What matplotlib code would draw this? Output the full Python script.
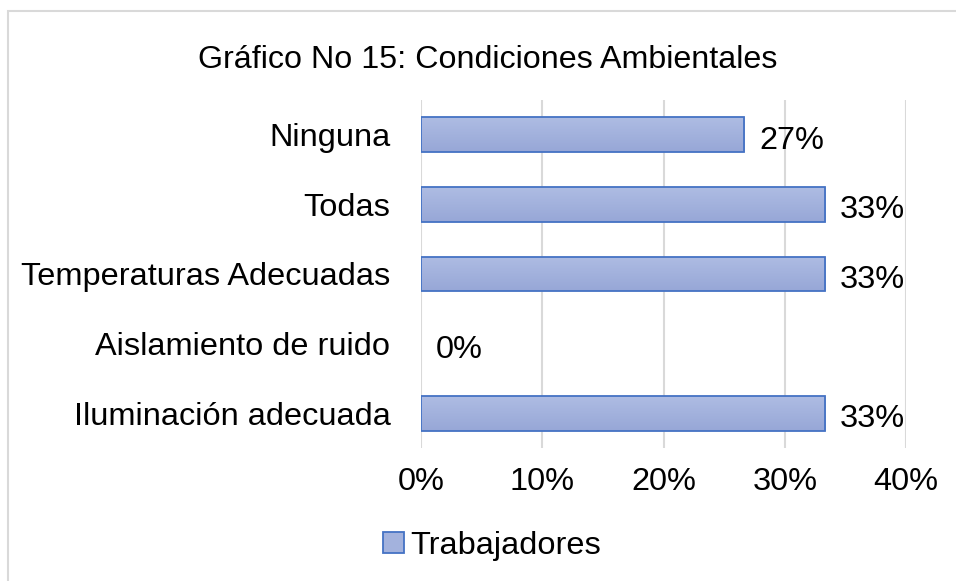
import matplotlib
matplotlib.use("Agg")
import matplotlib.pyplot as plt
import numpy as np
from matplotlib.patches import Rectangle
from matplotlib.ticker import PercentFormatter
from matplotlib.colors import LinearSegmentedColormap

categories = ["Iluminación adecuada", "Aislamiento de ruido", "Temperaturas Adecuadas", "Todas", "Ninguna"]
values = [33.33, 0.0, 33.33, 33.33, 26.67]
labels = ["33%", "0%", "33%", "33%", "27%"]
xticks = [0, 10, 20, 30, 40]
series_name = "Trabajadores"
title = "Gráfico No 15: Condiciones Ambientales"

plt.rcParams['font.family'] = ['Liberation Sans', 'DejaVu Sans']

fig = plt.figure(figsize=(9.56, 5.81), dpi=100)
fig.patch.set_facecolor("white")
# chart outer border
fig.patches.append(Rectangle((7.5/956, -0.1), 1.2, 1 - 11.0/581 + 0.1, transform=fig.transFigure,
                             fill=False, edgecolor="#D9D9D9", linewidth=1.5))

ax = fig.add_axes([421/956, 1 - 448/581, 485/956, 348/581])
y = np.arange(len(categories))
bars = ax.barh(y, values, height=0.5, color="none", edgecolor="none", linewidth=0, zorder=3)

grad = np.linspace(0, 1, 64).reshape(-1, 1)
cmap = LinearSegmentedColormap.from_list("g", ["#AEBCE3", "#97A7D7"])
for b in bars:
    if b.get_width() <= 0:
        continue
    x0, y0 = b.get_x(), b.get_y()
    w, h = b.get_width(), b.get_height()
    im = ax.imshow(grad, cmap=cmap, aspect="auto", extent=(x0, x0 + w, y0, y0 + h),
                   origin="upper", zorder=3.5)
    im.set_clip_path(b)
    ax.add_patch(Rectangle((x0, y0), w, h, fill=False, edgecolor="#4472C4", linewidth=1.3, zorder=4))

for yi, v, lab in zip(y, values, labels):
    ax.annotate(lab, (v, yi), xytext=(15, -6), textcoords="offset pixels",
                va="center", ha="left", fontsize=23.4, color="black")

ax.set_xlim(0, 40)
ax.set_ylim(-0.5, len(categories) - 0.5)
ax.set_xticks(xticks)
ax.xaxis.set_major_formatter(PercentFormatter(decimals=0))
ax.set_yticks(y)
ax.set_yticklabels(categories)
ax.tick_params(axis="both", length=0, labelsize=23.4, colors="black")
ax.tick_params(axis="x", pad=14)
ax.tick_params(axis="y", pad=22)
ax.grid(axis="x", color="#D9D9D9", linewidth=1.5, zorder=0)
for s in ax.spines.values():
    s.set_visible(False)
ax.set_facecolor("none")

fig.text(488/956, 1 - 60/581, title, ha="center", va="center", fontsize=23.2)

handle = Rectangle((0, 0), 1, 1, facecolor="#A3B2DD", edgecolor="#4472C4", linewidth=1.3)
fig.legend([handle], [series_name], loc="center", bbox_to_anchor=(492/956, 1 - 546/581),
           frameon=False, fontsize=23.4, handlelength=0.65, handleheight=0.65, handletextpad=0.2)

fig.savefig("out.png", dpi=100, facecolor="white")
